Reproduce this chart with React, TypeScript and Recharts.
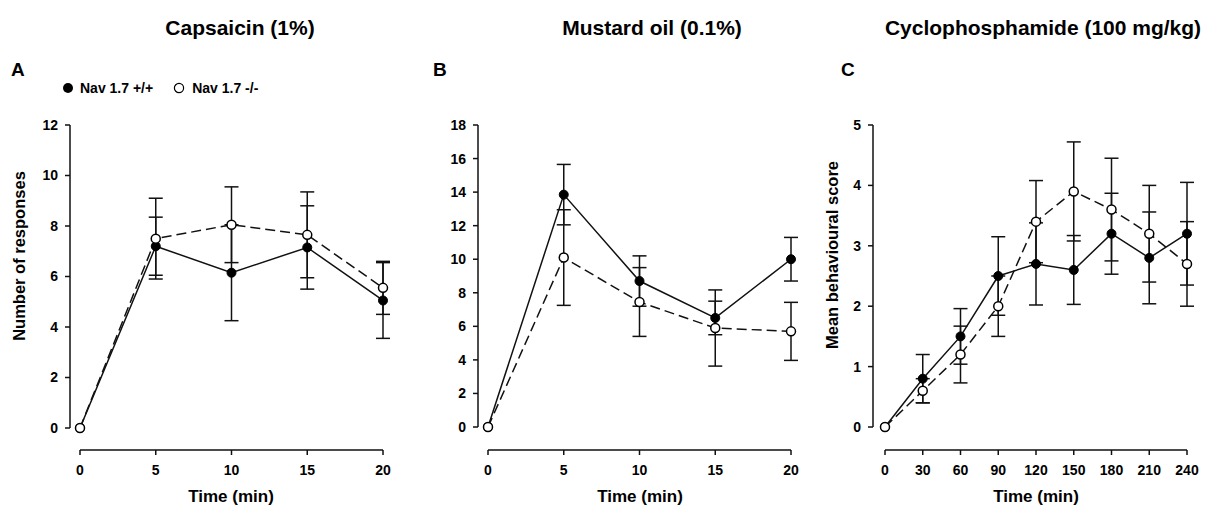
import { LineChart, Line, XAxis, YAxis, ErrorBar } from 'recharts';

// time points (min)
const CAPS_TIME = [0, 5, 10, 15, 20];
const CAPS_WT = [0, 7.2, 6.15, 7.15, 5.05];
const CAPS_WT_SEM = [0, 1.15, 1.9, 1.65, 1.5];
const CAPS_KO = [0, 7.5, 8.05, 7.65, 5.55];
const CAPS_KO_SEM = [0, 1.6, 1.5, 1.7, 1.05];

const MUST_TIME = [0, 5, 10, 15, 20];
const MUST_WT = [0, 13.85, 8.7, 6.5, 10.0];
const MUST_WT_SEM = [0, 1.8, 1.5, 1.0, 1.3];
const MUST_KO = [0, 10.1, 7.45, 5.9, 5.7];
const MUST_KO_SEM = [0, 2.85, 2.05, 2.27, 1.73];

const CYP_TIME = [0, 30, 60, 90, 120, 150, 180, 210, 240];
const CYP_WT = [0, 0.8, 1.5, 2.5, 2.7, 2.6, 3.2, 2.8, 3.2];
const CYP_WT_SEM = [0, 0.4, 0.46, 0.65, 0.68, 0.57, 0.67, 0.76, 0.85];
const CYP_KO = [0, 0.6, 1.2, 2.0, 3.4, 3.9, 3.6, 3.2, 2.7];
const CYP_KO_SEM = [0, 0.2, 0.47, 0.5, 0.68, 0.82, 0.85, 0.8, 0.7];

const CAPS_Y_TICKS = [0, 2, 4, 6, 8, 10, 12];
const MUST_Y_TICKS = [0, 2, 4, 6, 8, 10, 12, 14, 16, 18];
const CYP_Y_TICKS = [0, 1, 2, 3, 4, 5];

const FONT = '"Liberation Sans", Arial, Helvetica, sans-serif';
const INK = '#111';
const H = 510;
const X_AXIS_H = 30;

type Row = { t: number; wt: number; wtErr: number; ko: number; koErr: number };

const buildRows = (t: number[], wt: number[], wtE: number[], ko: number[], koE: number[]): Row[] =>
  t.map((time, i) => ({ t: time, wt: wt[i], wtErr: wtE[i], ko: ko[i], koErr: koE[i] }));

interface PanelProps {
  data: Row[];
  left: number;
  width: number;
  margin: { top: number; right: number; bottom: number; left: number };
  xTicks: number[];
  yTicks: number[];
  xPad: number;
  yPad: number;
}

function Panel({ data, left, width, margin, xTicks, yTicks, xPad, yPad }: PanelProps) {
  const plotH = H - margin.top - margin.bottom - X_AXIS_H;
  const plotW = width - margin.left - margin.right - 40;
  const tickStyle = { fill: '#000', fontSize: 14, fontWeight: 'bold', fontFamily: FONT };
  return (
    <div style={{ position: 'absolute', left, top: 0 }}>
      <LineChart width={width} height={H} data={data} margin={margin}>
        <XAxis
          dataKey="t"
          type="number"
          domain={[xTicks[0], xTicks[xTicks.length - 1]]}
          ticks={xTicks}
          interval={0}
          padding={{ left: xPad, right: 0 }}
          height={X_AXIS_H}
          tickSize={5}
          tickMargin={10}
          tick={tickStyle}
          axisLine={{ stroke: INK, strokeWidth: 1.5, strokeDasharray: `0 ${xPad} ${plotW - xPad}` }}
          tickLine={{ stroke: INK, strokeWidth: 1.5 }}
        />
        <YAxis
          type="number"
          domain={[yTicks[0], yTicks[yTicks.length - 1]]}
          ticks={yTicks}
          interval={0}
          width={40}
          padding={{ top: 0, bottom: yPad }}
          tickSize={5}
          tickMargin={7}
          tick={tickStyle}
          axisLine={{ stroke: INK, strokeWidth: 1.5, strokeDasharray: `${plotH - yPad} ${yPad}` }}
          tickLine={{ stroke: INK, strokeWidth: 1.5 }}
        />
        <Line
          dataKey="wt"
          stroke={INK}
          strokeWidth={1.5}
          dot={{ r: 4.5, fill: '#000', stroke: '#000', strokeWidth: 1, clipDot: false }}
          isAnimationActive={false}
        >
          <ErrorBar dataKey="wtErr" width={7} stroke={INK} strokeWidth={1.5} isAnimationActive={false} />
        </Line>
        <Line
          dataKey="ko"
          stroke={INK}
          strokeWidth={1.5}
          strokeDasharray="10 5"
          dot={{ r: 4.5, fill: '#fff', stroke: '#000', strokeWidth: 1.5, strokeDasharray: '', clipDot: false }}
          isAnimationActive={false}
        >
          <ErrorBar dataKey="koErr" width={7} stroke={INK} strokeWidth={1.5} isAnimationActive={false} />
        </Line>
      </LineChart>
    </div>
  );
}

const abs = (x: number, y: number, size: number, extra: React.CSSProperties = {}): React.CSSProperties => ({
  position: 'absolute',
  left: x,
  top: y,
  fontSize: size,
  whiteSpace: 'nowrap',
  lineHeight: 1,
  ...extra,
});

export default function App() {
  const caps = buildRows(CAPS_TIME, CAPS_WT, CAPS_WT_SEM, CAPS_KO, CAPS_KO_SEM);
  const must = buildRows(MUST_TIME, MUST_WT, MUST_WT_SEM, MUST_KO, MUST_KO_SEM);
  const cyp = buildRows(CYP_TIME, CYP_WT, CYP_WT_SEM, CYP_KO, CYP_KO_SEM);

  return (
    <div
      style={{
        position: 'absolute',
        left: 0,
        top: 0,
        width: 1213,
        height: H,
        background: '#fff',
        fontFamily: FONT,
        fontWeight: 'bold',
        color: '#000',
        overflow: 'hidden',
      }}
    >
      <Panel data={caps} left={0} width={410} margin={{ top: 125, right: 27, bottom: 30, left: 30 }}
        xTicks={CAPS_TIME} yTicks={CAPS_Y_TICKS} xPad={10} yPad={22} />
      <Panel data={must} left={410} width={400} margin={{ top: 125, right: 19, bottom: 30, left: 28 }}
        xTicks={MUST_TIME} yTicks={MUST_Y_TICKS} xPad={10} yPad={23} />
      <Panel data={cyp} left={810} width={403} margin={{ top: 125, right: 26, bottom: 30, left: 23 }}
        xTicks={CYP_TIME} yTicks={CYP_Y_TICKS} xPad={12} yPad={23} />

      {/* panel titles */}
      <div style={abs(240, 17, 21, { transform: 'translateX(-50%)' })}>Capsaicin (1%)</div>
      <div style={abs(652, 17, 21, { transform: 'translateX(-50%)' })}>Mustard oil (0.1%)</div>
      <div style={abs(1043, 17, 21, { transform: 'translateX(-50%)' })}>Cyclophosphamide (100 mg/kg)</div>

      {/* panel letters */}
      <div style={abs(11, 60, 19)}>A</div>
      <div style={abs(433, 60, 19)}>B</div>
      <div style={abs(841, 60, 19)}>C</div>

      {/* legend */}
      <div style={abs(62, 81, 14, { display: 'flex', alignItems: 'center' })}>
        <svg width={12} height={12}><circle cx={6} cy={6} r={5} fill="#000" /></svg>
        <span style={{ marginLeft: 6 }}>Nav 1.7 +/+</span>
        <svg width={12} height={12} style={{ marginLeft: 20 }}><circle cx={6} cy={6} r={4.6} fill="#fff" stroke="#000" strokeWidth={1.2} /></svg>
        <span style={{ marginLeft: 7 }}>Nav 1.7 -/-</span>
      </div>

      {/* axis titles */}
      <div style={abs(231, 488, 17, { transform: 'translateX(-50%)' })}>Time (min)</div>
      <div style={abs(640, 488, 17, { transform: 'translateX(-50%)' })}>Time (min)</div>
      <div style={abs(1036, 488, 17, { transform: 'translateX(-50%)' })}>Time (min)</div>
      <div style={abs(19, 256, 16.5, { transform: 'translate(-50%, -50%) rotate(-90deg)' })}>Number of responses</div>
      <div style={abs(832, 255, 16.5, { transform: 'translate(-50%, -50%) rotate(-90deg)' })}>Mean behavioural score</div>
    </div>
  );
}
